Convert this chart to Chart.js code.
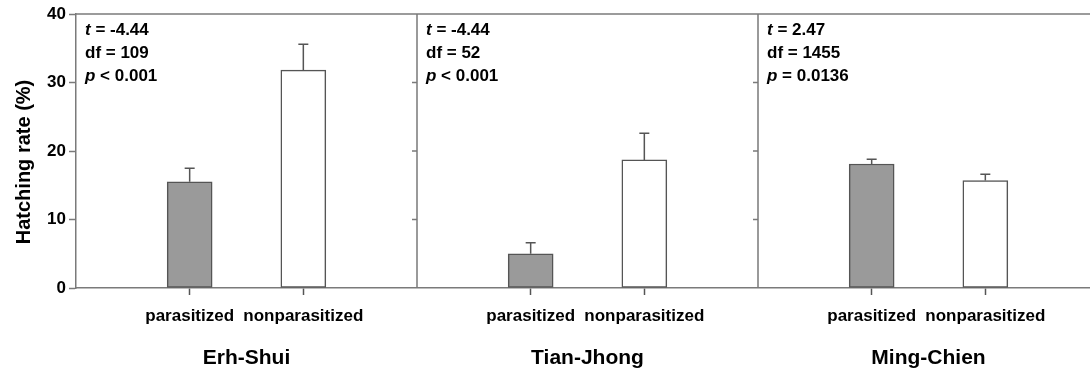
<!DOCTYPE html>
<html>
<head>
<meta charset="utf-8">
<script src="https://cdn.jsdelivr.net/npm/chart.js@4.4.1/dist/chart.umd.min.js"></script>
<style>
  html, body { margin: 0; padding: 0; background: #fff; overflow: hidden; }
  #wrap { width: 1100px; height: 374px; }
</style>
</head>
<body>
<div id="wrap"><canvas id="hatchChart" width="1100" height="374"></canvas></div>
<script>
// sites and bar categories
const sites = ['Erh-Shui', 'Tian-Jhong', 'Ming-Chien'];
const categories = ['parasitized', 'nonparasitized'];

// hatching rate (%) per site
const parasitized = [15.5, 5.0, 18.1];
const nonparasitized = [31.8, 18.7, 15.7];
// upper error bar length (SE)
const parasitizedErr = [2.0, 1.6, 0.7];
const nonparasitizedErr = [3.8, 3.9, 0.9];

// t-test results per site
const tValues = ['-4.44', '-4.44', '2.47'];
const dfValues = ['109', '52', '1455'];
const pValues = ['< 0.001', '< 0.001', '= 0.0136'];

const yTicks = [0, 10, 20, 30, 40];

const FONT = "'Liberation Sans', Arial, sans-serif";
const LINE = '#7a7a7a';
const DARK = '#555555';

// each site gets 3 slots: an empty slot (panel edge) then the two bars
const labels = [];
const values = [];
const errors = [];
const colors = [];
sites.forEach((s, i) => {
    labels.push('');
    values.push(null);
    errors.push(null);
    colors.push('transparent');
    labels.push(categories[0]);
    values.push(parasitized[i]);
    errors.push(parasitizedErr[i]);
    colors.push('#9a9a9a');
    labels.push(categories[1]);
    values.push(nonparasitized[i]);
    errors.push(nonparasitizedErr[i]);
    colors.push('#ffffff');
});
labels.push('');
values.push(null);
errors.push(null);
colors.push('transparent');

const decor = {
    id: 'panel_decor',
    afterDatasetsDraw: (chart) => {
        const ctx = chart.ctx;
        const xs = chart.scales.x;
        const ys = chart.scales.y;
        const area = chart.chartArea;
        ctx.save();

        // error bars (upper only)
        ctx.strokeStyle = DARK;
        ctx.lineWidth = 1.5;
        values.forEach((v, i) => {
            if (v === null) return;
            const x = xs.getPixelForValue(i);
            const y0 = ys.getPixelForValue(v);
            const y1 = ys.getPixelForValue(v + errors[i]);
            ctx.beginPath();
            ctx.moveTo(x, y0);
            ctx.lineTo(x, y1);
            ctx.moveTo(x - 5, y1);
            ctx.lineTo(x + 5, y1);
            ctx.stroke();
        });

        // top frame line
        ctx.strokeStyle = LINE;
        ctx.lineWidth = 1.5;
        ctx.beginPath();
        ctx.moveTo(area.left, area.top);
        ctx.lineTo(area.right, area.top);
        ctx.stroke();

        // panel separators with inward ticks
        sites.forEach((s, i) => {
            const xr = xs.getPixelForValue(i * 3 + 3);
            ctx.beginPath();
            ctx.moveTo(xr, area.top);
            ctx.lineTo(xr, area.bottom);
            yTicks.forEach(t => {
                if (t === 0 || t === 40) return;
                const y = ys.getPixelForValue(t);
                ctx.moveTo(xr, y);
                ctx.lineTo(xr - 5, y);
            });
            ctx.stroke();
        });

        // stats text
        ctx.fillStyle = '#000';
        ctx.textBaseline = 'middle';
        ctx.textAlign = 'left';
        sites.forEach((s, i) => {
            const x0 = xs.getPixelForValue(i * 3) + 9;
            const rows = [
                ['t', ' = ' + tValues[i]],
                [null, 'df = ' + dfValues[i]],
                ['p', ' ' + pValues[i]]
            ];
            rows.forEach((r, k) => {
                const y = area.top + 16 + k * 23;
                let x = x0;
                if (r[0]) {
                    ctx.font = 'italic bold 17px ' + FONT;
                    ctx.fillText(r[0], x, y);
                    x += ctx.measureText(r[0]).width;
                }
                ctx.font = 'bold 17px ' + FONT;
                ctx.fillText(r[1], x, y);
            });
        });

        // site names under each panel
        ctx.textAlign = 'center';
        ctx.font = 'bold 21px ' + FONT;
        sites.forEach((s, i) => {
            const xc = (xs.getPixelForValue(i * 3) + xs.getPixelForValue(i * 3 + 3)) / 2;
            ctx.fillText(s, xc, 358);
        });

        // y axis title
        ctx.save();
        ctx.translate(24, 162);
        ctx.rotate(-Math.PI / 2);
        ctx.font = 'bold 20px ' + FONT;
        ctx.fillText('Hatching rate (%)', 0, 0);
        ctx.restore();

        ctx.restore();
    }
};

const config = {
    type: 'bar',
    data: {
        labels: labels,
        datasets: [{
            label: 'Hatching rate',
            data: values,
            backgroundColor: colors,
            borderColor: values.map(v => v === null ? 'transparent' : DARK),
            borderWidth: 1.5,
            borderSkipped: false,
            barThickness: 45
        }]
    },
    plugins: [decor],
    options: {
        responsive: false,
        animation: false,
        events: [],
        layout: { padding: { top: 14, right: 1, left: 0, bottom: 0 } },
        plugins: {
            legend: { display: false },
            tooltip: { enabled: false }
        },
        scales: {
            x: {
                type: 'category',
                offset: false,
                afterFit: (s) => {
                    s.height = 86;
                    s.paddingLeft = 0;
                    s.paddingRight = 0;
                },
                grid: {
                    offset: false,
                    drawOnChartArea: false,
                    tickLength: 7,
                    tickWidth: 1.5,
                    tickColor: (c) => (c.tick && c.tick.label) ? DARK : 'transparent'
                },
                border: { color: LINE, width: 1.5 },
                ticks: {
                    autoSkip: false,
                    maxRotation: 0,
                    padding: 11,
                    color: '#000',
                    font: { family: FONT, size: 17, weight: 'bold' }
                }
            },
            y: {
                min: 0,
                max: 40,
                afterFit: (s) => { s.width = 76; },
                afterBuildTicks: (s) => { s.ticks = yTicks.map(v => ({ value: v })); },
                grid: {
                    drawOnChartArea: false,
                    tickLength: 7,
                    tickWidth: 1.5,
                    tickColor: LINE
                },
                border: { color: LINE, width: 1.5 },
                ticks: {
                    padding: 3,
                    color: '#000',
                    font: { family: FONT, size: 17, weight: 'bold' }
                }
            }
        }
    }
};

const hatchChart = new Chart(document.getElementById('hatchChart'), config);
</script>
</body>
</html>
